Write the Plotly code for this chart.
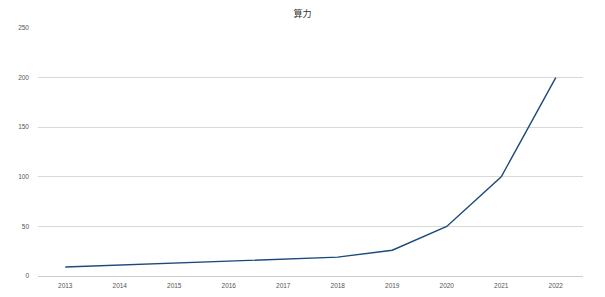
import plotly.graph_objects as go

years = ["2013", "2014", "2015", "2016", "2017", "2018", "2019", "2020", "2021", "2022"]
compute = [9, 11, 13, 15, 17, 19, 26, 50, 100, 200]
y_ticks = [0, 50, 100, 150, 200, 250]

fig = go.Figure(
    go.Scatter(
        x=years,
        y=compute,
        mode="lines",
        line=dict(color="#1c4a7c", width=1.4),
        hoverinfo="x+y",
    )
)

fig.update_layout(
    width=605,
    height=297,
    margin=dict(l=38, r=22, t=28, b=21),
    paper_bgcolor="white",
    plot_bgcolor="white",
    showlegend=False,
    font=dict(family="Liberation Sans, Arial, sans-serif", color="#555555", size=6.5),
    title=dict(
        text="算力",
        x=0.5,
        xanchor="center",
        y=0.955,
        yanchor="middle",
        font=dict(family="Noto Sans CJK SC, sans-serif", size=9, color="#333333"),
    ),
)

fig.update_xaxes(
    type="category",
    range=[-0.5, len(years) - 0.5],
    automargin=False,
    showgrid=False,
    showline=True,
    linecolor="#cccccc",
    linewidth=1,
    ticks="",
    tickfont=dict(size=6.5, color="#555555"),
    ticklabelstandoff=3,
)

fig.update_yaxes(
    range=[0, 250],
    tickvals=y_ticks,
    automargin=False,
    showgrid=True,
    gridcolor="#d9d9d9",
    gridwidth=1,
    zeroline=False,
    showline=False,
    ticks="",
    tickfont=dict(size=6.5, color="#555555"),
    ticklabelstandoff=8,
)

fig.write_html("out.html")
